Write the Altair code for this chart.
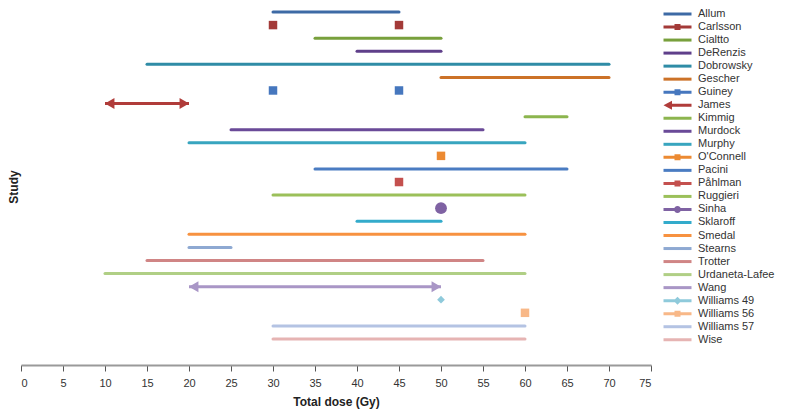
import altair as alt
import pandas as pd

studies = ["Allum", "Carlsson", "Cialtto", "DeRenzis", "Dobrowsky", "Gescher", "Guiney",
           "James", "Kimmig", "Murdock", "Murphy", "O'Connell", "Pacini", "Påhlman",
           "Ruggieri", "Sinha", "Sklaroff", "Smedal", "Stearns", "Trotter", "Urdaneta-Lafee",
           "Wang", "Williams 49", "Williams 56", "Williams 57", "Wise"]

range_start = [30, None, 35, 40, 15, 50, None, 10, 60, 25, 20, None, 35, None,
               30, None, 40, 20, 20, 15, 10, 20, None, None, 30, 30]
range_end = [45, None, 50, 50, 70, 70, None, 20, 65, 55, 60, None, 65, None,
             60, None, 50, 60, 25, 55, 60, 50, None, None, 60, 60]

arrow_studies = ["James", "Wang"]

square_study = ["Carlsson", "Carlsson", "Guiney", "Guiney", "O'Connell", "Påhlman", "Williams 56"]
square_dose = [30, 45, 30, 45, 50, 45, 60]
circle_study = ["Sinha"]
circle_dose = [50]
diamond_study = ["Williams 49"]
diamond_dose = [50]

colors = ["#3d6aa5", "#a33a38", "#78a03c", "#5f3f8a", "#2f8ca6", "#cc7228", "#4677be",
          "#b03c3a", "#8cb54e", "#6a4a98", "#38a5bf", "#ec8a32", "#4a7cc2", "#c4504e",
          "#9bc05a", "#7f62a3", "#33abcb", "#f79240", "#8ea9d2", "#d08585", "#b0cf85",
          "#a996c6", "#8fcadb", "#f8b888", "#b4c3e3", "#e6b4b3"]

legend_marker = ["line", "square", "line", "line", "line", "line", "square",
                 "arrow", "line", "line", "line", "square", "line", "square",
                 "line", "circle", "line", "line", "line", "line", "line",
                 "line", "diamond", "square", "line", "line"]

# legend symbol paths (unit = sqrt(size)/2 px)
LINE = "M-2.8,-0.3H2.8V0.3H-2.8Z"
paths = {
    "line": LINE,
    "square": LINE + "M-0.6,-0.6H0.6V0.6H-0.6Z",
    "circle": LINE + "M-0.7,0A0.7,0.7 0 1,1 0.7,0A0.7,0.7 0 1,1 -0.7,0Z",
    "diamond": LINE + "M0,-0.8L0.8,0L0,0.8L-0.8,0Z",
    "arrow": "M-1.4,-0.3H2.8V0.3H-1.4Z" + "M-2.8,0L-1.1,-0.9L-1.1,0.9Z",
}
shape_range = [paths[m] for m in legend_marker]

row_of = {s: i for i, s in enumerate(studies)}

ranges = pd.DataFrame({
    "study": studies, "row": list(range(len(studies))),
    "start": range_start, "end": range_end,
}).dropna()
plain = ranges[~ranges["study"].isin(arrow_studies)]
arrows = ranges[ranges["study"].isin(arrow_studies)]

squares = pd.DataFrame({"study": square_study, "dose": square_dose})
squares["row"] = squares["study"].map(row_of)
circles = pd.DataFrame({"study": circle_study, "dose": circle_dose})
circles["row"] = circles["study"].map(row_of)
diamonds = pd.DataFrame({"study": diamond_study, "dose": diamond_dose})
diamonds["row"] = diamonds["study"].map(row_of)

legend_df = pd.DataFrame({"study": studies, "row": list(range(len(studies))),
                          "dose": [-10] * len(studies)})

xscale = alt.Scale(domain=[0, 75], nice=False, zero=False)
yscale = alt.Scale(domain=[-0.306, 26.99], reverse=True, nice=False, zero=False)
cscale = alt.Scale(domain=studies, range=colors)

xaxis = alt.Axis(values=list(range(0, 80, 5)), title="Total dose (Gy)", grid=False,
                 domainColor="#9a9a9a", domainWidth=2, tickColor="#555555", tickSize=6,
                 tickWidth=1, labelFontSize=11, labelColor="#333333", labelPadding=6,
                 titleFontSize=12, titleFontWeight="bold", titleColor="#222222",
                 titlePadding=8)
yaxis = alt.Axis(title="Study", labels=False, ticks=False, domain=False, grid=False,
                 titleFontSize=12, titleFontWeight="bold", titleColor="#222222",
                 titlePadding=1)

lines = alt.Chart(plain).mark_rule(strokeWidth=3, strokeCap="round").encode(
    x=alt.X("start:Q", scale=xscale, axis=xaxis),
    x2="end:Q",
    y=alt.Y("row:Q", scale=yscale, axis=yaxis),
    color=alt.Color("study:N", scale=cscale, legend=None),
)

arrow_lines = alt.Chart(arrows).mark_rule(strokeWidth=3, strokeCap="butt").encode(
    x=alt.X("start:Q", scale=xscale),
    x2="end:Q",
    y=alt.Y("row:Q", scale=yscale),
    color=alt.Color("study:N", scale=cscale, legend=None),
)
heads_left = alt.Chart(arrows).mark_point(shape="triangle-left", filled=True, size=120,
                                          opacity=1, xOffset=4.7).encode(
    x=alt.X("start:Q", scale=xscale),
    y=alt.Y("row:Q", scale=yscale),
    color=alt.Color("study:N", scale=cscale, legend=None),
)
heads_right = alt.Chart(arrows).mark_point(shape="triangle-right", filled=True, size=120,
                                           opacity=1, xOffset=-4.7).encode(
    x=alt.X("end:Q", scale=xscale),
    y=alt.Y("row:Q", scale=yscale),
    color=alt.Color("study:N", scale=cscale, legend=None),
)

sq = alt.Chart(squares).mark_square(size=72, opacity=1).encode(
    x=alt.X("dose:Q", scale=xscale),
    y=alt.Y("row:Q", scale=yscale),
    color=alt.Color("study:N", scale=cscale, legend=None),
)
ci = alt.Chart(circles).mark_circle(size=140, opacity=1).encode(
    x=alt.X("dose:Q", scale=xscale),
    y=alt.Y("row:Q", scale=yscale),
    color=alt.Color("study:N", scale=cscale, legend=None),
)
di = alt.Chart(diamonds).mark_point(shape="diamond", filled=True, size=60, opacity=1).encode(
    x=alt.X("dose:Q", scale=xscale),
    y=alt.Y("row:Q", scale=yscale),
    color=alt.Color("study:N", scale=cscale, legend=None),
)

leg = alt.Legend(title=None, orient="none", legendX=651, legendY=0.5,
                 labelFontSize=11, labelColor="#333333",
                 labelOffset=15, rowPadding=1.03, padding=0,
                 symbolSize=100, symbolStrokeWidth=0,
                 symbolOpacity=1, labelLimit=200)

legend_layer = alt.Chart(legend_df).mark_point(filled=True, size=100, opacity=1, clip=True).encode(
    x=alt.X("dose:Q", scale=xscale),
    y=alt.Y("row:Q", scale=yscale),
    color=alt.Color("study:N", scale=cscale, legend=leg),
    shape=alt.Shape("study:N", scale=alt.Scale(domain=studies, range=shape_range), legend=leg),
)

chart = alt.layer(lines, arrow_lines, heads_left, heads_right, sq, ci, di, legend_layer).resolve_legend(
    color="independent", shape="independent"
).properties(
    width=630, height=357,
    autosize=alt.AutoSizeParams(type="none"),
    padding={"left": 13, "top": 0, "right": 128, "bottom": 44},
).configure(
    font="Liberation Sans",
    view=alt.ViewConfig(stroke=None),
)

chart.save("out.html", embed_options={"renderer": "svg", "actions": False})
